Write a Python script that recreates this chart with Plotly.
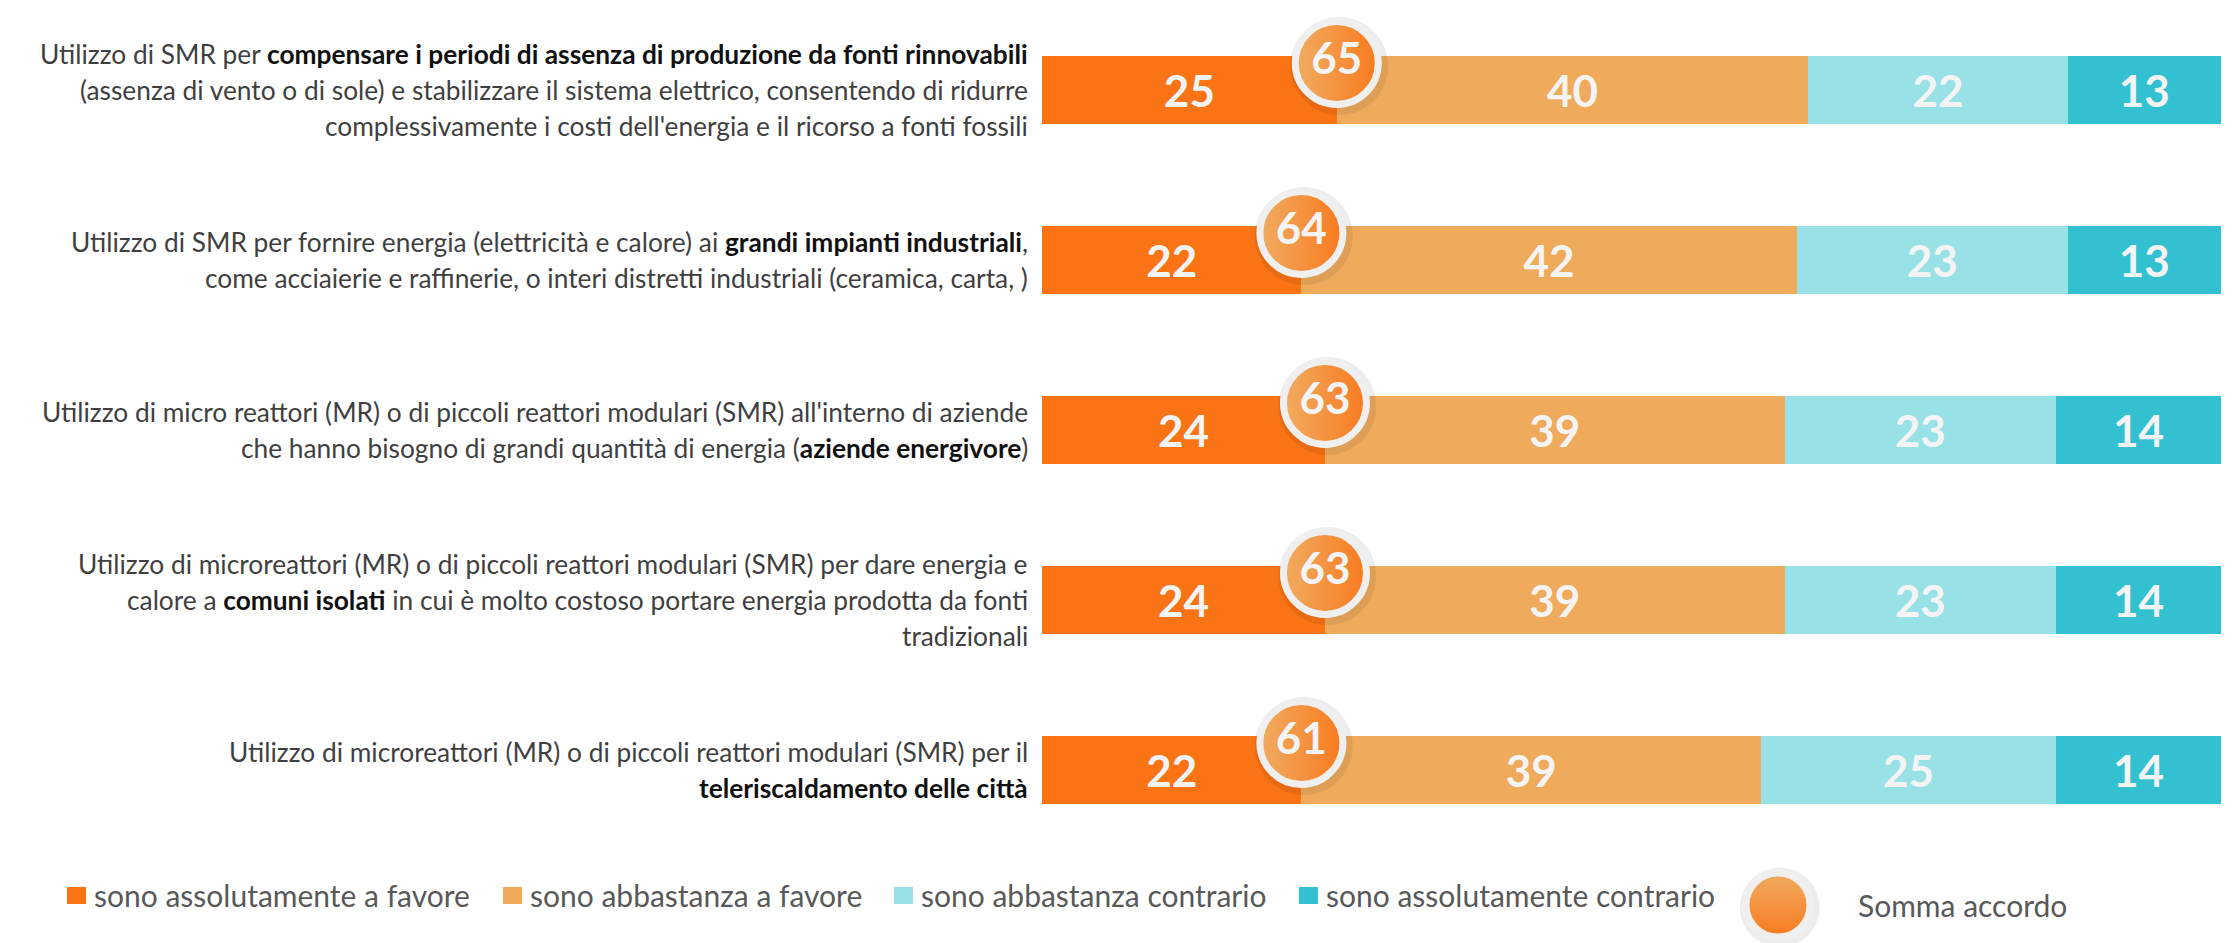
import plotly.graph_objects as go

# ---------------- data ----------------
labels = [
    "Utilizzo di SMR per <b><span style='color:#111111'>compensare i periodi di assenza di produzione da fonti rinnovabili</span></b><br>(assenza di vento o di sole) e stabilizzare il sistema elettrico, consentendo di ridurre<br>complessivamente i costi dell'energia e il ricorso a fonti fossili",
    "Utilizzo di SMR per fornire energia (elettricità e calore) ai <b><span style='color:#111111'>grandi impianti industriali</span></b>,<br>come acciaierie e raffinerie, o interi distretti industriali (ceramica, carta, )",
    "Utilizzo di micro reattori (MR) o di piccoli reattori modulari (SMR) all'interno di aziende<br>che hanno bisogno di grandi quantità di energia (<b><span style='color:#111111'>aziende energivore</span></b>)",
    "Utilizzo di microreattori (MR) o di piccoli reattori modulari (SMR) per dare energia e<br>calore a <b><span style='color:#111111'>comuni isolati</span></b> in cui è molto costoso portare energia prodotta da fonti<br>tradizionali",
    "Utilizzo di microreattori (MR) o di piccoli reattori modulari (SMR) per il<br><b><span style='color:#111111'>teleriscaldamento delle città</span></b>",
]
series_names = [
    "sono assolutamente a favore",
    "sono abbastanza a favore",
    "sono abbastanza contrario",
    "sono assolutamente contrario",
]
assol_favore = [25, 22, 24, 24, 22]
abb_favore = [40, 42, 39, 39, 39]
abb_contrario = [22, 23, 23, 23, 25]
assol_contrario = [13, 13, 14, 14, 14]
somma_accordo = [65, 64, 63, 63, 61]
somma_label = "Somma accordo"

colors = ["#FA7314", "#EFAA5C", "#98E2E7", "#33C0D0"]

# ---------------- geometry (pixels) ----------------
W, H = 2233, 943
BAR_X0, BAR_X1 = 1042, 2221      # pixel extent of 0..100 %
ROW0_CY, ROW_PX = 90, 170        # centre of first row, row pitch
LINE_PX = 36                     # label line pitch
n = len(labels)
ypos = list(range(n))
px_per_unit = (BAR_X1 - BAR_X0) / 100.0

x_range = [-BAR_X0 / px_per_unit, 100 + (W - BAR_X1) / px_per_unit]
y_top = (0 - ROW0_CY) / ROW_PX
y_bot = (H - ROW0_CY) / ROW_PX
y_range = [y_bot, y_top]         # reversed: first row on top


def dx(px):
    return (px - BAR_X0) / px_per_unit


def dy(py):
    return (py - ROW0_CY) / ROW_PX


def px_x(px):
    return px / W


def px_y(py):
    return 1 - py / H


FONT = "Lato"

fig = go.Figure()

series_vals = [assol_favore, abb_favore, abb_contrario, assol_contrario]
for name, vals, col in zip(series_names, series_vals, colors):
    fig.add_trace(go.Bar(
        y=ypos, x=vals, orientation="h", name=name,
        marker=dict(color=col, line=dict(width=0)),
        width=0.4,
        text=[str(v) for v in vals],
        textposition="inside", insidetextanchor="middle",
        textfont=dict(family=FONT, size=44, color="#F4F4F4", weight="bold"),
        showlegend=False, hoverinfo="skip",
    ))

# badges with the sum of agreement
cy = [i - 0.2 + 7 / ROW_PX for i in ypos]
fig.add_trace(go.Scatter(
    x=[v + 0.2 for v in assol_favore], y=[c + 0.018 for c in cy], mode="markers",
    marker=dict(size=98, color="rgba(0,0,0,0.07)", line=dict(width=0)),
    cliponaxis=False, showlegend=False, hoverinfo="skip",
))
fig.add_trace(go.Scatter(
    x=assol_favore, y=cy, mode="markers+text",
    marker=dict(size=83, color="#F0AC62",
                gradient=dict(type="horizontal", color="#F97A1E"),
                line=dict(color="#EFEFEF", width=7)),
    text=[str(s) for s in somma_accordo], textposition="middle center",
    textfont=dict(family=FONT, size=44, color="#F4F4F4", weight="bold"),
    cliponaxis=False, showlegend=False, hoverinfo="skip",
))

# category labels (one annotation per line for exact line pitch)
annotations = []
for i, lab in enumerate(labels):
    lines = lab.split("<br>")
    m = len(lines)
    for k, line in enumerate(lines):
        annotations.append(dict(
            x=0, xref="x", xanchor="right", xshift=-12,
            y=ypos[i], yref="y", yanchor="middle",
            yshift=-(k - (m - 1) / 2) * LINE_PX,
            text=line, align="right", showarrow=False,
            font=dict(family=FONT, size=26.3, color="#3F3F3F"),
        ))

# custom legend
shapes = []
leg_sq_x = [67, 503, 894, 1299]
leg_y = 895
for sx, name, col in zip(leg_sq_x, series_names, colors):
    shapes.append(dict(
        type="rect", xref="paper", yref="paper",
        x0=px_x(sx), x1=px_x(sx + 19), y0=px_y(leg_y + 9), y1=px_y(leg_y - 8),
        fillcolor=col, line=dict(width=0), layer="above",
    ))
    annotations.append(dict(
        x=px_x(sx + 25), xref="paper", xanchor="left",
        y=px_y(leg_y), yref="paper", yanchor="middle",
        text=name, showarrow=False,
        font=dict(family=FONT, size=30, color="#595959"),
    ))

leg_cx, leg_cy = 1778, 905
fig.add_trace(go.Scatter(
    x=[dx(leg_cx) + 0.15], y=[dy(leg_cy) + 0.015], mode="markers",
    marker=dict(size=80, color="rgba(0,0,0,0.07)", line=dict(width=0)),
    cliponaxis=False, showlegend=False, hoverinfo="skip",
))
fig.add_trace(go.Scatter(
    x=[dx(leg_cx)], y=[dy(leg_cy)], mode="markers",
    marker=dict(size=65, color="#F0AC62",
                gradient=dict(type="vertical", color="#F97A1E"),
                line=dict(color="#EFEFEF", width=8)),
    cliponaxis=False, showlegend=False, hoverinfo="skip",
))
annotations.append(dict(
    x=px_x(1856), xref="paper", xanchor="left",
    y=px_y(leg_cy), yref="paper", yanchor="middle",
    text=somma_label, showarrow=False,
    font=dict(family=FONT, size=30, color="#595959"),
))

fig.update_layout(
    width=W, height=H,
    margin=dict(l=0, r=0, t=0, b=0, pad=0),
    barmode="stack",
    plot_bgcolor="white", paper_bgcolor="white",
    xaxis=dict(range=x_range, visible=False, fixedrange=True),
    yaxis=dict(range=y_range, visible=False, fixedrange=True),
    annotations=annotations,
    shapes=shapes,
    showlegend=False,
)

fig.write_html("out.html", config={"displayModeBar": False},
               post_script="document.body.style.margin='0';")
